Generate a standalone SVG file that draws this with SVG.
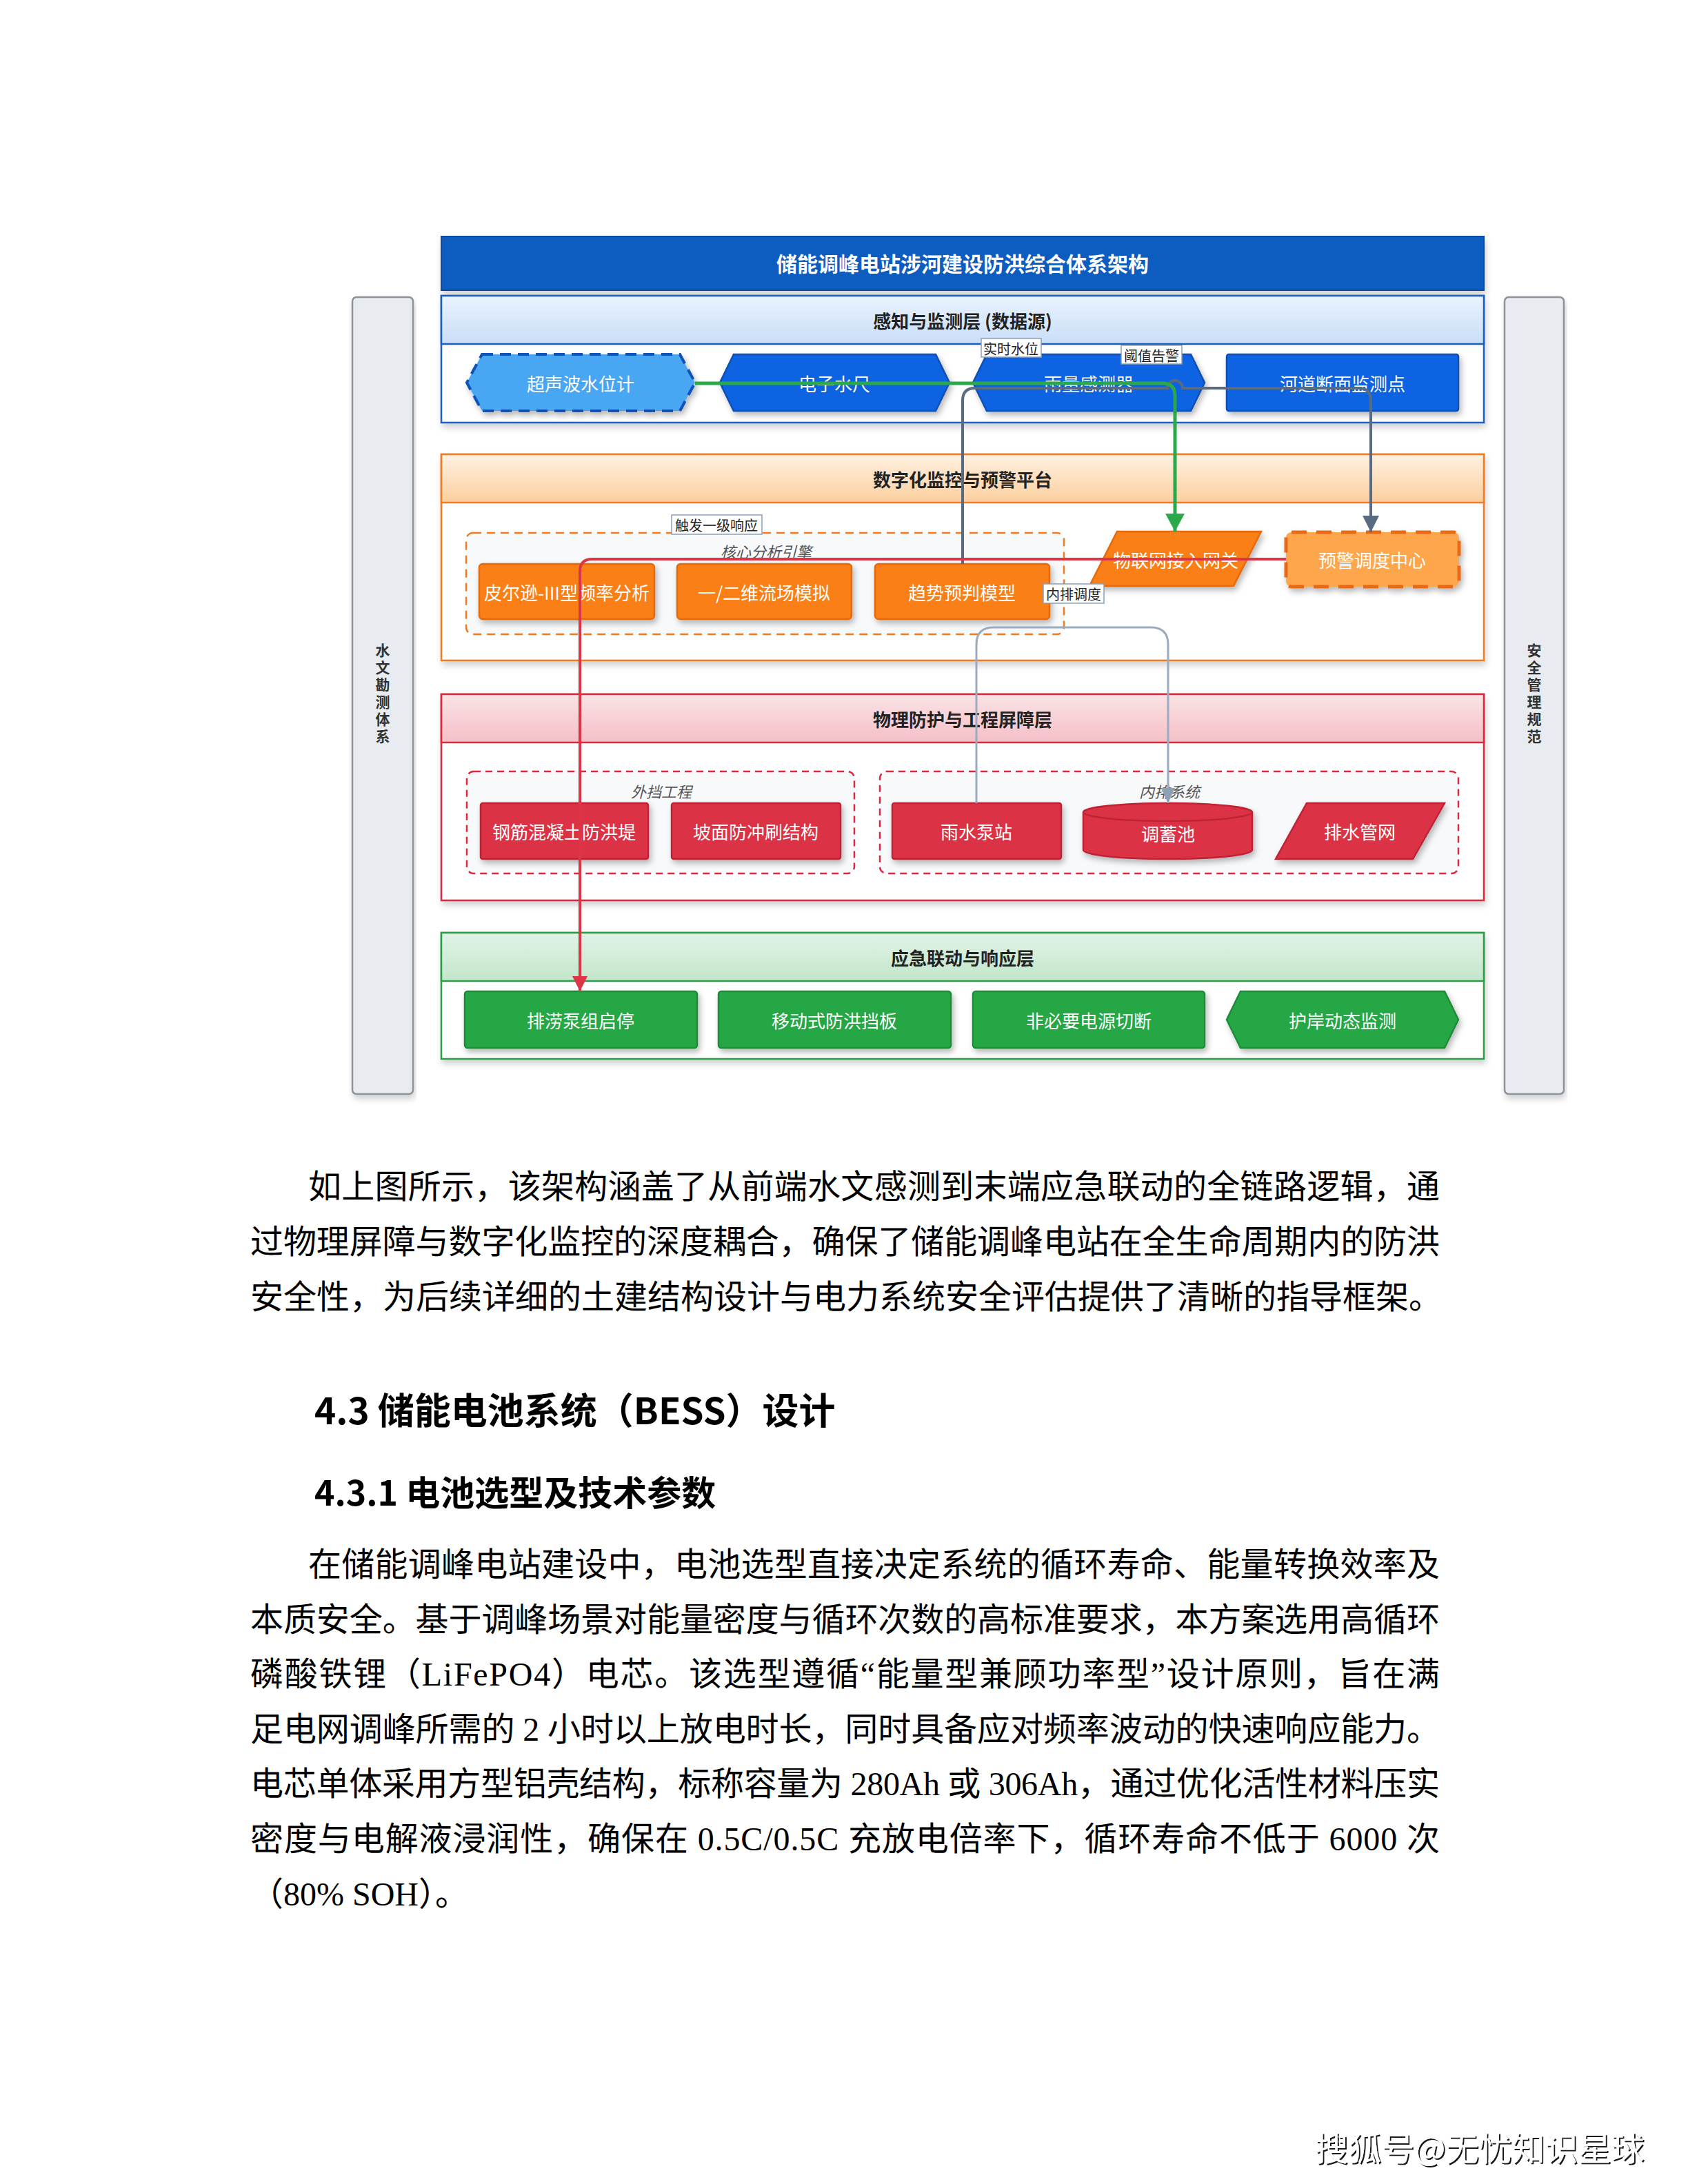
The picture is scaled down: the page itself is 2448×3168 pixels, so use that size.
<svg xmlns="http://www.w3.org/2000/svg" width="2448" height="3168" viewBox="0 0 2448 3168">
<defs>
<style>
.title{font-family:"Noto Sans CJK SC",sans-serif;font-size:30px;font-weight:bold;fill:#fff;text-anchor:middle;dominant-baseline:central;}
.hdr{font-family:"Noto Sans CJK SC",sans-serif;font-size:26px;font-weight:bold;fill:#222;text-anchor:middle;dominant-baseline:central;}
.nt{font-family:"Noto Sans CJK SC",sans-serif;font-size:26px;fill:#fff;text-anchor:middle;dominant-baseline:central;}
.glab{font-family:"Noto Sans CJK SC",sans-serif;font-size:22px;font-style:italic;fill:#555;text-anchor:middle;dominant-baseline:central;}
.clab{font-family:"Noto Sans CJK SC",sans-serif;font-size:20px;fill:#222;text-anchor:middle;dominant-baseline:central;}
.clbox{fill:#fff;stroke:#8a9fb6;stroke-width:1.5;}
.side{fill:#e8ebef;stroke:#8c939b;stroke-width:2.5;}
.sidet{font-family:"Noto Sans CJK SC",sans-serif;font-size:21px;font-weight:bold;fill:#333;text-anchor:middle;writing-mode:vertical-rl;text-orientation:upright;letter-spacing:4px;}
.lay{fill:#fff;stroke-width:2.5;}
.blue{fill:#0b64e2;stroke:#0a4fb2;stroke-width:2.5;}
.orange{fill:#fa7f17;stroke:#e46a0c;stroke-width:2.5;}
.red{fill:#dc3244;stroke:#bf2435;stroke-width:2.5;}
.green{fill:#28a745;stroke:#1e8c39;stroke-width:2.5;}
.body{font-family:"Liberation Serif","Noto Sans CJK SC",serif;font-size:48px;fill:#000;}
.head{font-family:"Noto Sans CJK SC",sans-serif;font-weight:bold;fill:#000;}
</style>
<filter id="sh" x="-10%" y="-20%" width="125%" height="150%">
<feDropShadow dx="3" dy="5" stdDeviation="4" flood-color="#000" flood-opacity="0.28"/>
</filter>
<filter id="shl" x="-5%" y="-10%" width="110%" height="125%">
<feDropShadow dx="2" dy="6" stdDeviation="5" flood-color="#000" flood-opacity="0.18"/>
</filter>
<filter id="wm" x="-5%" y="-30%" width="110%" height="160%">
<feDropShadow dx="2" dy="2" stdDeviation="0.6" flood-color="#000" flood-opacity="0.9"/>
</filter>
<linearGradient id="gBlue" x1="0" y1="0" x2="0" y2="1"><stop offset="0" stop-color="#eaf3fe"/><stop offset="1" stop-color="#c8def7"/></linearGradient>
<linearGradient id="gOr" x1="0" y1="0" x2="0" y2="1"><stop offset="0" stop-color="#fff1e2"/><stop offset="1" stop-color="#fccf9e"/></linearGradient>
<linearGradient id="gRed" x1="0" y1="0" x2="0" y2="1"><stop offset="0" stop-color="#fbe3e6"/><stop offset="1" stop-color="#f4bfc6"/></linearGradient>
<linearGradient id="gGr" x1="0" y1="0" x2="0" y2="1"><stop offset="0" stop-color="#e1f3e5"/><stop offset="1" stop-color="#c3e6cb"/></linearGradient>
<marker id="aGreen" markerUnits="userSpaceOnUse" markerWidth="30" markerHeight="30" refX="26" refY="14" orient="auto"><path d="M0,0 L26,14 L0,28 Z" fill="#2aa84a"/></marker>
<marker id="aGray" markerUnits="userSpaceOnUse" markerWidth="30" markerHeight="30" refX="24" refY="12" orient="auto"><path d="M0,0 L24,12 L0,24 Z" fill="#5a6a80"/></marker>
<marker id="aRed" markerUnits="userSpaceOnUse" markerWidth="30" markerHeight="30" refX="22" refY="11" orient="auto"><path d="M0,0 L22,11 L0,22 Z" fill="#dc3545"/></marker>
<marker id="aLight" markerUnits="userSpaceOnUse" markerWidth="30" markerHeight="30" refX="22" refY="10" orient="auto"><path d="M0,0 L22,10 L0,20 Z" fill="#8ea0b4"/></marker>
</defs>
<rect x="0" y="0" width="2448" height="3168" fill="#fff"/>

<!-- side bars -->
<g id="side-left">
<rect class="side" x="511" y="431" width="88" height="1156" rx="6" filter="url(#shl)"/>
<text class="sidet" x="555" y="1008">水文勘测体系</text>
</g>
<g id="side-right">
<rect class="side" x="2182" y="431" width="86" height="1156" rx="6" filter="url(#shl)"/>
<text class="sidet" x="2225" y="1008">安全管理规范</text>
</g>

<!-- title -->
<g id="title">
<rect x="640" y="343" width="1512" height="78" fill="#075bbf" stroke="#0a4a9c" stroke-width="2" filter="url(#shl)"/>
<text class="title" x="1396" y="381">储能调峰电站涉河建设防洪综合体系架构</text>
</g>

<!-- layer 1 -->
<g id="layer-sense">
<rect class="lay" x="640" y="429" width="1512" height="184" stroke="#1a5fc0" filter="url(#shl)"/>
<rect x="640" y="429" width="1512" height="70" fill="url(#gBlue)" stroke="#1a5fc0" stroke-width="2.5"/>
<text class="hdr" x="1396" y="464">感知与监测层 (数据源)</text>
</g>
<g id="n-ultra">
<polygon points="699,514 986,514 1008,555 986,596 699,596 677,555" fill="#4aa6f2" stroke="#0a52b8" stroke-width="4" stroke-dasharray="16 10" filter="url(#sh)"/>
<text class="nt" x="842" y="555">超声波水位计</text>
</g>
<g id="n-gauge">
<polygon points="1064,514 1357,514 1377,555 1357,596 1064,596 1044,555" class="blue" filter="url(#sh)"/>
<text class="nt" x="1210" y="555">电子水尺</text>
</g>
<g id="n-rain">
<polygon points="1431,514 1727,514 1747,555 1727,596 1431,596 1411,555" class="blue" filter="url(#sh)"/>
<text class="nt" x="1579" y="555">雨量感测器</text>
</g>
<g id="n-section">
<rect x="1779" y="514" width="336" height="82" rx="3" class="blue" filter="url(#sh)"/>
<text class="nt" x="1947" y="555">河道断面监测点</text>
</g>

<!-- layer 2 -->
<g id="layer-digital">
<rect class="lay" x="640" y="659" width="1512" height="299" stroke="#f07b22" filter="url(#shl)"/>
<rect x="640" y="659" width="1512" height="70" fill="url(#gOr)" stroke="#f07b22" stroke-width="2.5"/>
<text class="hdr" x="1396" y="694">数字化监控与预警平台</text>
</g>
<g id="grp-core">
<rect x="676" y="773" width="867" height="147" rx="10" fill="#f8f9fb" stroke="#f07b22" stroke-width="2.5" stroke-dasharray="12 8"/>
<text class="glab" x="1111" y="799">核心分析引擎</text>
</g>
<g id="n-pearson">
<rect x="695" y="818" width="254" height="80" rx="5" class="orange" filter="url(#sh)"/>
<text class="nt" x="822" y="858">皮尔逊-III型频率分析</text>
</g>
<g id="n-flow">
<rect x="982" y="818" width="253" height="80" rx="5" class="orange" filter="url(#sh)"/>
<text class="nt" x="1108" y="858">一/二维流场模拟</text>
</g>
<g id="n-trend">
<rect x="1269" y="818" width="253" height="80" rx="5" class="orange" filter="url(#sh)"/>
<text class="nt" x="1395" y="858">趋势预判模型</text>
</g>
<g id="n-iot">
<polygon points="1620,771 1829,771 1789,850 1580,850" class="orange" filter="url(#sh)"/>
<text class="nt" x="1705" y="811">物联网接入网关</text>
</g>
<g id="n-dispatch">
<rect x="1865" y="772" width="251" height="79" rx="8" fill="#fda64c" stroke="#e96a12" stroke-width="5" stroke-dasharray="22 14" filter="url(#sh)"/>
<text class="nt" x="1990" y="811">预警调度中心</text>
</g>

<!-- layer 3 -->
<g id="layer-physical">
<rect class="lay" x="640" y="1007" width="1512" height="299" stroke="#d9293c" filter="url(#shl)"/>
<rect x="640" y="1007" width="1512" height="70" fill="url(#gRed)" stroke="#d9293c" stroke-width="2.5"/>
<text class="hdr" x="1396" y="1042">物理防护与工程屏障层</text>
</g>
<g id="grp-outer">
<rect x="677" y="1119" width="562" height="148" rx="10" fill="#f8f9fb" stroke="#d9293c" stroke-width="2.5" stroke-dasharray="10 7"/>
<text class="glab" x="959" y="1147">外挡工程</text>
</g>
<g id="grp-inner">
<rect x="1276" y="1119" width="839" height="148" rx="10" fill="#f8f9fb" stroke="#d9293c" stroke-width="2.5" stroke-dasharray="10 7"/>
<text class="glab" x="1696" y="1147">内排系统</text>
</g>
<g id="n-levee">
<rect x="697" y="1165" width="243" height="81" rx="3" class="red" filter="url(#sh)"/>
<text class="nt" x="818" y="1205">钢筋混凝土防洪堤</text>
</g>
<g id="n-slope">
<rect x="974" y="1165" width="245" height="81" rx="3" class="red" filter="url(#sh)"/>
<text class="nt" x="1096" y="1205">坡面防冲刷结构</text>
</g>
<g id="n-pump">
<rect x="1294" y="1165" width="245" height="81" rx="3" class="red" filter="url(#sh)"/>
<text class="nt" x="1416" y="1205">雨水泵站</text>
</g>
<g id="n-pool">
<path d="M1571,1178 A122.5,13 0 0 1 1816,1178 V1233 A122.5,13 0 0 1 1571,1233 Z" class="red" filter="url(#sh)"/>
<path d="M1571,1178 A122.5,13 0 0 0 1816,1178" fill="none" stroke="#bf2435" stroke-width="2.5"/>
<text class="nt" x="1694" y="1208">调蓄池</text>
</g>
<g id="n-drain">
<polygon points="1895,1165 2095,1165 2049,1246 1850,1246" class="red" filter="url(#sh)"/>
<text class="nt" x="1972" y="1205">排水管网</text>
</g>

<!-- layer 4 -->
<g id="layer-emergency">
<rect class="lay" x="640" y="1353" width="1512" height="183" stroke="#2a9d45" filter="url(#shl)"/>
<rect x="640" y="1353" width="1512" height="70" fill="url(#gGr)" stroke="#2a9d45" stroke-width="2.5"/>
<text class="hdr" x="1396" y="1388">应急联动与响应层</text>
</g>
<g id="n-pumpctl">
<rect x="674" y="1438" width="337" height="82" rx="4" class="green" filter="url(#sh)"/>
<text class="nt" x="842" y="1479">排涝泵组启停</text>
</g>
<g id="n-board">
<rect x="1042" y="1438" width="337" height="82" rx="4" class="green" filter="url(#sh)"/>
<text class="nt" x="1210" y="1479">移动式防洪挡板</text>
</g>
<g id="n-power">
<rect x="1411" y="1438" width="336" height="82" rx="4" class="green" filter="url(#sh)"/>
<text class="nt" x="1579" y="1479">非必要电源切断</text>
</g>
<g id="n-bank">
<polygon points="1799,1438 2095,1438 2115,1479 2095,1520 1799,1520 1779,1479" class="green" filter="url(#sh)"/>
<text class="nt" x="1947" y="1479">护岸动态监测</text>
</g>

<!-- connectors -->
<g id="connectors" fill="none">
<path d="M1396,818 V581 Q1396,563 1414,563 H1693 A11,11 0 0 1 1715,563 H1970 Q1988,563 1988,581 V772" stroke="#5a6a80" stroke-width="4" marker-end="url(#aGray)"/>
<path d="M1008,556 H1686 Q1704,556 1704,574 V771" stroke="#2aa84a" stroke-width="5" marker-end="url(#aGreen)"/>
<path d="M1865,811 H859 Q841,811 841,829 V1438" stroke="#dc3545" stroke-width="4" marker-end="url(#aRed)"/>
<path d="M1416,1165 V935 Q1416,910 1441,910 H1669 Q1694,910 1694,935 V1165" stroke="#9aabbd" stroke-width="3" marker-end="url(#aLight)"/>
</g>
<g id="connector-labels">
<rect class="clbox" x="1423" y="491" width="87" height="27"/>
<text class="clab" x="1466" y="505">实时水位</text>
<rect class="clbox" x="1626" y="501" width="88" height="27"/>
<text class="clab" x="1670" y="515">阈值告警</text>
<rect class="clbox" x="974" y="747" width="131" height="28"/>
<text class="clab" x="1039" y="761">触发一级响应</text>
<rect class="clbox" x="1513" y="847" width="88" height="28"/>
<text class="clab" x="1557" y="861">内排调度</text>
</g>

<!-- body text -->
<g id="text-body">
<text class="body" x="447" y="1738" textLength="1641" lengthAdjust="spacing">如上图所示，该架构涵盖了从前端水文感测到末端应急联动的全链路逻辑，通</text>
<text class="body" x="363" y="1818" textLength="1725" lengthAdjust="spacing">过物理屏障与数字化监控的深度耦合，确保了储能调峰电站在全生命周期内的防洪</text>
<text class="body" x="363" y="1898">安全性，为后续详细的土建结构设计与电力系统安全评估提供了清晰的指导框架。</text>
<text class="head" x="456" y="2066" font-size="53">4.3 储能电池系统（BESS）设计</text>
<text class="head" x="456" y="2184" font-size="50">4.3.1 电池选型及技术参数</text>
<text class="body" x="447" y="2286" textLength="1641" lengthAdjust="spacing">在储能调峰电站建设中，电池选型直接决定系统的循环寿命、能量转换效率及</text>
<text class="body" x="363" y="2366" textLength="1725" lengthAdjust="spacing">本质安全。基于调峰场景对能量密度与循环次数的高标准要求，本方案选用高循环</text>
<text class="body" x="363" y="2445" textLength="1725" lengthAdjust="spacing">磷酸铁锂（LiFePO4）电芯。该选型遵循“能量型兼顾功率型”设计原则，旨在满</text>
<text class="body" x="363" y="2525" textLength="1725" lengthAdjust="spacing">足电网调峰所需的 2 小时以上放电时长，同时具备应对频率波动的快速响应能力。</text>
<text class="body" x="363" y="2604" textLength="1725" lengthAdjust="spacing">电芯单体采用方型铝壳结构，标称容量为 280Ah 或 306Ah，通过优化活性材料压实</text>
<text class="body" x="363" y="2684" textLength="1725" lengthAdjust="spacing">密度与电解液浸润性，确保在 0.5C/0.5C 充放电倍率下，循环寿命不低于 6000 次</text>
<text class="body" x="363" y="2764">（80% SOH）。</text>
</g>
<text x="1907" y="3134" font-family="'Noto Sans CJK SC',sans-serif" font-size="48" fill="#fff" filter="url(#wm)">搜狐号@无忧知识星球</text>
</svg>
